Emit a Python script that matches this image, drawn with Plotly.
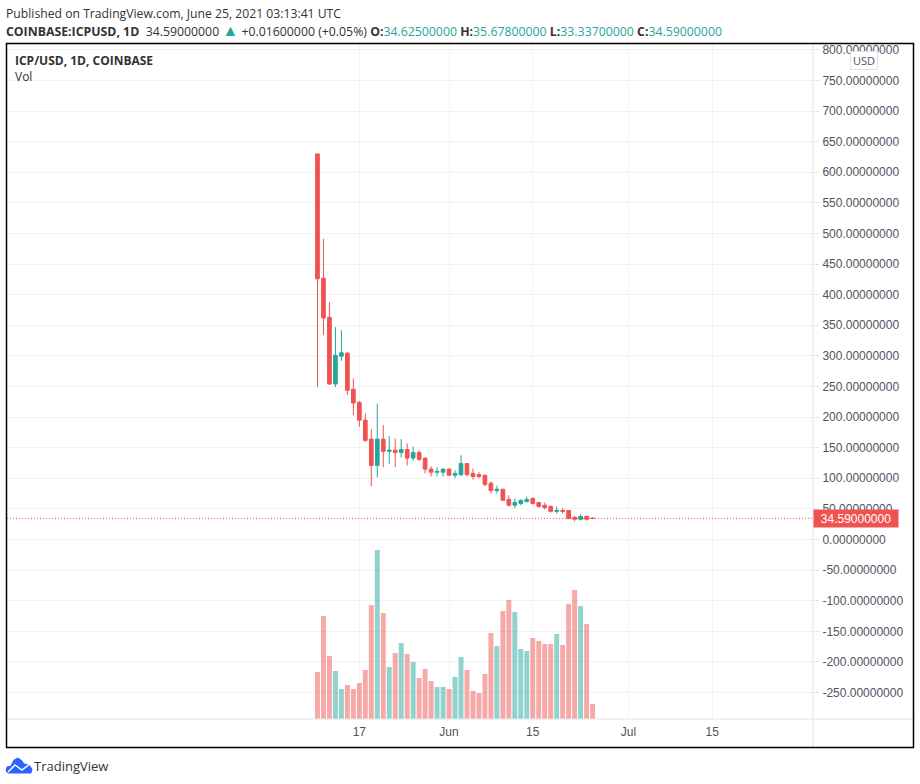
# ICP/USD daily chart with volume, TradingView look

import plotly.graph_objects as go
import pandas as pd

W = 920
H = 784

dates = pd.date_range("2021-05-10", periods=47, freq="D")
opens = [630, 427, 363, 254, 299.5, 304.5, 245.5, 224, 195, 164, 121, 164, 144, 146, 142, 147, 133, 142, 133, 115, 110, 110, 115, 105,
         106, 124, 108, 106, 105, 92, 80, 82, 65.5, 56, 59, 62, 67, 60.5, 56, 54, 46, 47.5, 47.5, 36, 33, 37.6, 34.625]
highs = [630, 491, 388, 347, 342, 306, 263, 226, 206, 180, 222, 187, 169, 165, 164, 157, 152, 146, 133, 119.5, 118, 116, 116, 113,
         137.5, 124, 116, 110, 106, 95, 88, 83, 72, 67, 65.5, 70, 69, 60.5, 60.5, 56, 54, 51, 47.5, 39, 41, 39, 35.678]
lows = [249, 334, 252.5, 249, 292, 236, 203, 184, 159, 87, 101.5, 118, 123, 118, 134, 121, 129, 128, 108, 103, 103, 103, 105, 100,
        103, 103, 98, 100, 87, 75, 75, 64, 54, 51, 56, 60.5, 57, 52, 49, 44, 42.5, 42.5, 34, 29.5, 31, 31, 33.337]
closes = [426, 362, 254, 301, 305, 244, 223, 195, 162, 121, 164, 144, 146, 142, 147, 133, 142, 131, 115, 110, 111, 115, 105, 108,
          124, 106, 103, 103, 90, 80, 82, 64, 56, 60.5, 64, 65.5, 59, 54, 52, 46, 47.5, 46, 34, 33, 37.6, 33, 34.59]
volumes = [470, 1030, 630, 480, 300, 340, 300, 360, 490, 1140, 1690, 1060, 520, 660, 760, 650, 570, 410, 500, 380, 320, 320, 300, 420,
           620, 490, 280, 260, 450, 860, 730, 1080, 1190, 1070, 700, 680, 810, 780, 750, 750, 850, 740, 1150, 1290, 1130, 950, 150]

y_ticks = [800, 750, 700, 650, 600, 550, 500, 450, 400, 350, 300, 250, 200, 150, 100, 50, 0, -50, -100, -150, -200, -250]
y_labels = [f"{v:.8f}" for v in y_ticks]
x_ticks = ["2021-05-17", "2021-06-01", "2021-06-15", "2021-07-01", "2021-07-15"]
x_labels = ["17", "Jun", "15", "Jul", "15"]

RED = "#ef5350"
GREEN = "#26a69a"
GRID = "#f1f3f6"
AXIS = "#e0e3eb"
TEXT = "#50535e"
UI_FONT = "Open Sans"
AXIS_FONT = "Liberation Sans"


def px(x):
    return x / W


def py(y):
    return 1 - y / H


def path(points):
    # pixel points -> paper coords svg path
    return "M" + " L".join(f"{px(x):.5f},{py(y):.5f}" for x, y in points)


vol_colors = ["rgba(38,166,154,0.5)" if c >= o else "rgba(239,83,80,0.5)" for o, c in zip(opens, closes)]

fig = go.Figure()
fig.add_trace(go.Bar(x=dates, y=volumes, yaxis="y2", marker=dict(color=vol_colors, line_width=0), showlegend=False))
fig.add_trace(go.Candlestick(
    x=dates, open=opens, high=highs, low=lows, close=closes, showlegend=False,
    whiskerwidth=0,
    increasing=dict(line=dict(color=GREEN, width=1), fillcolor=GREEN),
    decreasing=dict(line=dict(color=RED, width=1), fillcolor=RED),
))

fig.update_layout(
    width=W, height=H,
    margin=dict(l=0, r=0, t=0, b=0),
    paper_bgcolor="white", plot_bgcolor="white",
    bargap=0.17, boxgap=0.12,
    hovermode=False,
    xaxis=dict(
        domain=[px(7), px(813)],
        type="date",
        range=["2021-03-19 02:00", "2021-07-31 20:38"],
        rangeslider=dict(visible=False),
        tickvals=x_ticks, ticktext=x_labels,
        ticks="", showgrid=True, gridcolor=GRID, gridwidth=1, zeroline=False,
        ticklabelstandoff=4,
        tickfont=dict(family=AXIS_FONT, size=12, color=TEXT),
        anchor="y",
    ),
    yaxis=dict(
        domain=[py(719), py(44)],
        range=[-293.3, 809.6],
        side="right",
        tickvals=y_ticks, ticktext=y_labels,
        ticks="outside", ticklen=5, tickcolor=AXIS, tickwidth=1,
        ticklabelstandoff=1,
        showgrid=True, gridcolor=GRID, gridwidth=1, zeroline=False,
        tickfont=dict(family=AXIS_FONT, size=12, color=TEXT),
    ),
    yaxis2=dict(
        domain=[py(719), py(44)],
        range=[0, 6750],
        overlaying="y", visible=False,
    ),
)

shapes = [
    # last price line
    dict(type="line", xref="paper", yref="y", x0=px(7), x1=px(813), y0=closes[-1], y1=closes[-1],
         line=dict(color=RED, width=1, dash="1px,2px")),
    # axis lines
    dict(type="line", xref="paper", yref="paper", x0=px(7), x1=px(913), y0=py(719), y1=py(719),
         line=dict(color=AXIS, width=1)),
    dict(type="line", xref="paper", yref="paper", x0=px(813), x1=px(813), y0=py(44), y1=py(747),
         line=dict(color=AXIS, width=1)),
    # frame
    dict(type="rect", xref="paper", yref="paper", x0=px(6.5), x1=px(913.5), y0=py(43.5), y1=py(747.5),
         line=dict(color="black", width=1.5)),
    # logo
    dict(type="path", xref="paper", yref="paper", fillcolor="#2962ff", line=dict(color="#2962ff", width=1),
         path=path([(6, 771), (7, 767), (11, 766), (14, 760), (18, 758), (22, 761), (24, 764), (29, 765), (32, 769), (31, 773), (8, 773)]) + " Z"),
    dict(type="path", xref="paper", yref="paper", line=dict(color="white", width=1.5),
         path=path([(8, 772), (15, 765), (22, 770), (31, 763)])),
]
fig.update_layout(shapes=shapes)

o_val, h_val, l_val, c_val = opens[-1], highs[-1], lows[-1], closes[-1]


def teal(s):
    return f'<span style="color:{GREEN}">{s}</span>'


header = (
    f"<b>COINBASE:ICPUSD, 1D</b>  {c_val:.8f} <span style=\"color:{GREEN};font-size:16px\">▲</span> +0.01600000 (+0.05%) "
    f"<b>O:</b>{teal(f'{o_val:.8f}')} <b>H:</b>{teal(f'{h_val:.8f}')} "
    f"<b>L:</b>{teal(f'{l_val:.8f}')} <b>C:</b>{teal(f'{c_val:.8f}')}"
)

texts = [
    dict(text="Published on TradingView.com, June 25, 2021 03:13:41 UTC", x=6, y=13, size=12.2, color="#333333"),
    dict(text=header, x=6, y=30, size=12.3, color="#333333"),
    dict(text="<b>ICP/USD, 1D, COINBASE</b>", x=15, y=60, size=12, color="#333333"),
    dict(text="Vol", x=15, y=77, size=12, color="#333333"),
    dict(text="TradingView", x=34, y=766, size=13, color="#333333"),
]
for t in texts:
    fig.add_annotation(
        text=t["text"], xref="paper", yref="paper", x=px(t["x"]), y=py(t["y"]),
        xanchor="left", yanchor="middle", showarrow=False, borderpad=0, borderwidth=0,
        font=dict(family=UI_FONT, size=t["size"], color=t["color"]),
    )

# last price tag on the axis
fig.add_annotation(
    text=f"{c_val:.8f}", xref="paper", yref="y", x=px(813), y=c_val,
    xanchor="left", yanchor="middle", showarrow=False,
    width=84, height=17, bgcolor=RED, borderpad=0, align="center",
    font=dict(family=AXIS_FONT, size=12, color="white"),
)
# currency button
fig.add_annotation(
    text="USD", xref="paper", yref="paper", x=px(863.5), y=py(60),
    xanchor="center", yanchor="middle", showarrow=False,
    width=26, height=17, bgcolor="white", bordercolor=AXIS, borderwidth=1, borderpad=0,
    font=dict(family=UI_FONT, size=11, color=TEXT),
)

fig.write_html("out.html", config=dict(displayModeBar=False), post_script="document.body.style.margin='0';")
